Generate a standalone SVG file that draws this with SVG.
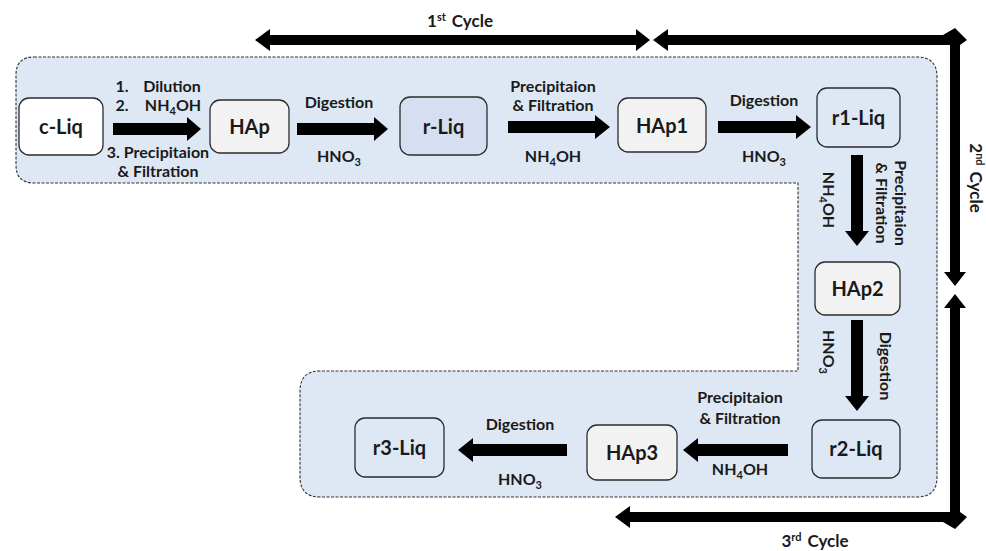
<svg xmlns="http://www.w3.org/2000/svg" width="986" height="551" viewBox="0 0 986 551">
<style>
.bg{fill:#dee8f5;stroke:#333;stroke-width:1.1;stroke-dasharray:3 1.5}
.nd{stroke:#2b2b2b;stroke-width:1.3}
.t{font-family:Lato,"Liberation Sans",sans-serif;font-weight:bold;fill:#1a1a1a;text-anchor:middle}
.n{font-size:20px}
.l{font-size:16px}
.c{font-size:17px}
.ar{fill:#000}
</style>
<rect width="986" height="551" fill="#fff"/>
<path class="bg" d="M34,57 H917 Q937,57 937,77 V477 Q937,497 917,497 H320 Q300,497 300,477 V391 Q300,371 320,371 H798 V183 H34 Q16,183 16,165 V75 Q16,57 34,57 Z"/>

<g id="connectors">
  <polygon class="ar" points="113,123 187,123 187,117 201,129 187,141 187,135 113,135"/>
  <polygon class="ar" points="297,123 374,123 374,117 388,129 374,141 374,135 297,135"/>
  <polygon class="ar" points="508,121 595,121 595,115 610,127 595,139 595,133 508,133"/>
  <polygon class="ar" points="718,121 796,121 796,115 811,127 796,139 796,133 718,133"/>
  <polygon class="ar" points="851,155 863,155 863,231 869,231 857,246 845,231 851,231"/>
  <polygon class="ar" points="851,320 863,320 863,396 869,396 857,411 845,396 851,396"/>
  <polygon class="ar" points="788,444 788,456 698,456 698,462 683,450 698,438 698,444"/>
  <polygon class="ar" points="567,444 567,456 473,456 473,462 458,450 473,438 473,444"/>
  <polygon class="ar" points="255,40 270,29 270,35 636,35 636,29 650,40 636,51 636,45 270,45 270,51"/>
  <polygon class="ar" points="653,40 668,29 668,35 943,35 955,28 967,40 960,45 960,272 966,272 955,286 944,272 950,272 950,45 668,45 668,51"/>
  <polygon class="ar" points="955,294 966,308 960,308 960,512 967,517 955,529 943,522 630,522 630,528 615,517 630,506 630,512 950,512 950,308 944,308"/>
</g>

<g id="c-liq"><rect class="nd" x="19" y="98" width="84" height="57" rx="10" fill="#fff"/><text class="t n" x="61" y="134">c-Liq</text></g>
<g id="hap"><rect class="nd" x="210" y="100" width="79" height="53" rx="10" fill="#f2f2f2"/><text class="t n" x="249.5" y="134">HAp</text></g>
<g id="r-liq"><rect class="nd" x="400" y="97" width="87" height="58" rx="10" fill="#d5dff1"/><text class="t n" x="443.5" y="134">r-Liq</text></g>
<g id="hap1"><rect class="nd" x="618" y="98" width="88" height="54" rx="10" fill="#f2f2f2"/><text class="t n" x="662" y="133">HAp1</text></g>
<g id="r1-liq"><rect class="nd" x="817" y="88" width="83" height="59" rx="10" fill="#dee8f5"/><text class="t n" x="858.5" y="125">r1-Liq</text></g>
<g id="hap2"><rect class="nd" x="815" y="262" width="85" height="53" rx="10" fill="#f2f2f2"/><text class="t n" x="857.5" y="296">HAp2</text></g>
<g id="r2-liq"><rect class="nd" x="812" y="420" width="88" height="58" rx="10" fill="#dee8f5"/><text class="t n" x="856" y="456">r2-Liq</text></g>
<g id="hap3"><rect class="nd" x="587" y="425" width="90" height="55" rx="10" fill="#f2f2f2"/><text class="t n" x="632" y="460">HAp3</text></g>
<g id="r3-liq"><rect class="nd" x="355" y="418" width="89" height="59" rx="10" fill="#dee8f5"/><text class="t n" x="399.5" y="455">r3-Liq</text></g>

<g id="labels">
  <text class="t l" x="122" y="92">1.</text><text class="t l" x="172" y="92">Dilution</text>
  <text class="t l" x="122" y="111">2.</text><text class="t l" x="173" y="111">NH<tspan font-size="11" dy="4">4</tspan><tspan dy="-4">OH</tspan></text>
  <text class="t l" x="158" y="158">3. Precipitaion</text>
  <text class="t l" x="158" y="177">&amp; Filtration</text>
  <text class="t l" x="339" y="108">Digestion</text>
  <text class="t l" x="339" y="162">HNO<tspan font-size="11" dy="4">3</tspan></text>
  <text class="t l" x="553" y="92">Precipitaion</text>
  <text class="t l" x="553" y="111">&amp; Filtration</text>
  <text class="t l" x="553" y="162">NH<tspan font-size="11" dy="4">4</tspan><tspan dy="-4">OH</tspan></text>
  <text class="t l" x="764" y="106">Digestion</text>
  <text class="t l" x="764" y="162">HNO<tspan font-size="11" dy="4">3</tspan></text>
  <text class="t l" transform="translate(823,200) rotate(90)">NH<tspan font-size="11" dy="4">4</tspan><tspan dy="-4">OH</tspan></text>
  <text class="t l" transform="translate(895,203) rotate(90)">Precipitaion</text>
  <text class="t l" transform="translate(876,203) rotate(90)">&amp; Filtration</text>
  <text class="t l" transform="translate(823,352) rotate(90)">HNO<tspan font-size="11" dy="4">3</tspan></text>
  <text class="t l" transform="translate(880,366) rotate(90)">Digestion</text>
  <text class="t l" x="740" y="403">Precipitaion</text>
  <text class="t l" x="740" y="424">&amp; Filtration</text>
  <text class="t l" x="740" y="475">NH<tspan font-size="11" dy="4">4</tspan><tspan dy="-4">OH</tspan></text>
  <text class="t l" x="520" y="430">Digestion</text>
  <text class="t l" x="520" y="485">HNO<tspan font-size="11" dy="4">3</tspan></text>
  <text class="t c" x="460" y="27">1<tspan font-size="11" dy="-6">st</tspan><tspan dy="6" dx="6">Cycle</tspan></text>
  <text class="t c" transform="translate(970,178) rotate(90)">2<tspan font-size="11" dy="-6">nd</tspan><tspan dy="6" dx="6">Cycle</tspan></text>
  <text class="t c" x="815" y="547">3<tspan font-size="11" dy="-6">rd</tspan><tspan dy="6" dx="6">Cycle</tspan></text>
</g>
</svg>
